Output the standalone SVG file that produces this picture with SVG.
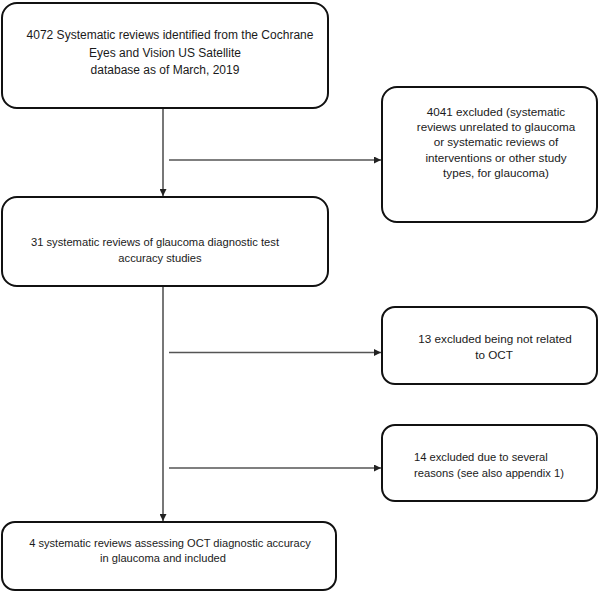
<svg xmlns="http://www.w3.org/2000/svg" width="600" height="592" viewBox="0 0 600 592">
  <style>
    .box { fill: #ffffff; stroke: #111111; stroke-width: 2; }
    .t { font-family: "Liberation Sans", Arial, sans-serif; font-size: 11.7px; fill: #1a1a1a; }
    .c { text-anchor: middle; }
    .conn { stroke: #555555; stroke-width: 1.6; fill: none; }
  </style>
  <defs>
    <marker id="ah" viewBox="0 0 10 10" refX="10" refY="5" markerWidth="7" markerHeight="7" markerUnits="userSpaceOnUse" orient="auto">
      <path d="M0,0 L10,5 L0,10 z" fill="#222222"/>
    </marker>
  </defs>
  <rect width="600" height="592" fill="#ffffff"/>

  <g id="connectors">
    <line class="conn" x1="163" y1="108" x2="163" y2="196" marker-end="url(#ah)"/>
    <line class="conn" x1="169" y1="160" x2="381" y2="160" marker-end="url(#ah)"/>
    <line class="conn" x1="163" y1="287" x2="163" y2="521" marker-end="url(#ah)"/>
    <line class="conn" x1="169" y1="352.5" x2="381" y2="352.5" marker-end="url(#ah)"/>
    <line class="conn" x1="169" y1="468" x2="381" y2="468" marker-end="url(#ah)"/>
  </g>

  <g id="identified">
    <rect class="box" x="2" y="3" width="326" height="105" rx="15"/>
    <text class="t c" x="170" y="39" style="font-size:12px">4072 Systematic reviews identified from the Cochrane</text>
    <text class="t c" x="165" y="57" style="font-size:12px">Eyes and Vision US Satellite</text>
    <text class="t c" x="165" y="74" style="font-size:12px">database as of March, 2019</text>
  </g>

  <g id="excluded4041">
    <rect class="box" x="382" y="87" width="215" height="135" rx="15"/>
    <text class="t c" x="496" y="116">4041 excluded (systematic</text>
    <text class="t c" x="496" y="131">reviews unrelated to glaucoma</text>
    <text class="t c" x="496" y="146">or systematic reviews of</text>
    <text class="t c" x="496" y="162">interventions or other study</text>
    <text class="t c" x="496" y="177">types, for glaucoma)</text>
  </g>

  <g id="dta31">
    <rect class="box" x="2" y="197" width="326" height="89" rx="15"/>
    <text class="t c" x="155" y="246" style="font-size:11.2px">31 systematic reviews of glaucoma diagnostic test</text>
    <text class="t c" x="160" y="262" style="font-size:11.2px">accuracy studies</text>
  </g>

  <g id="excluded13">
    <rect class="box" x="382" y="307" width="215" height="77" rx="13"/>
    <text class="t c" x="495" y="343">13 excluded being not related</text>
    <text class="t c" x="494" y="359">to OCT</text>
  </g>

  <g id="excluded14">
    <rect class="box" x="382" y="425" width="215" height="76" rx="13"/>
    <text class="t" x="414" y="461" style="font-size:11.2px">14 excluded due to several</text>
    <text class="t" x="414" y="477" style="font-size:11.2px">reasons (see also appendix 1)</text>
  </g>

  <g id="included">
    <rect class="box" x="2" y="522" width="334" height="68" rx="13"/>
    <text class="t c" x="170" y="547" style="font-size:11.1px">4 systematic reviews assessing OCT diagnostic accuracy</text>
    <text class="t c" x="163" y="562" style="font-size:11.1px">in glaucoma and included</text>
  </g>
</svg>
